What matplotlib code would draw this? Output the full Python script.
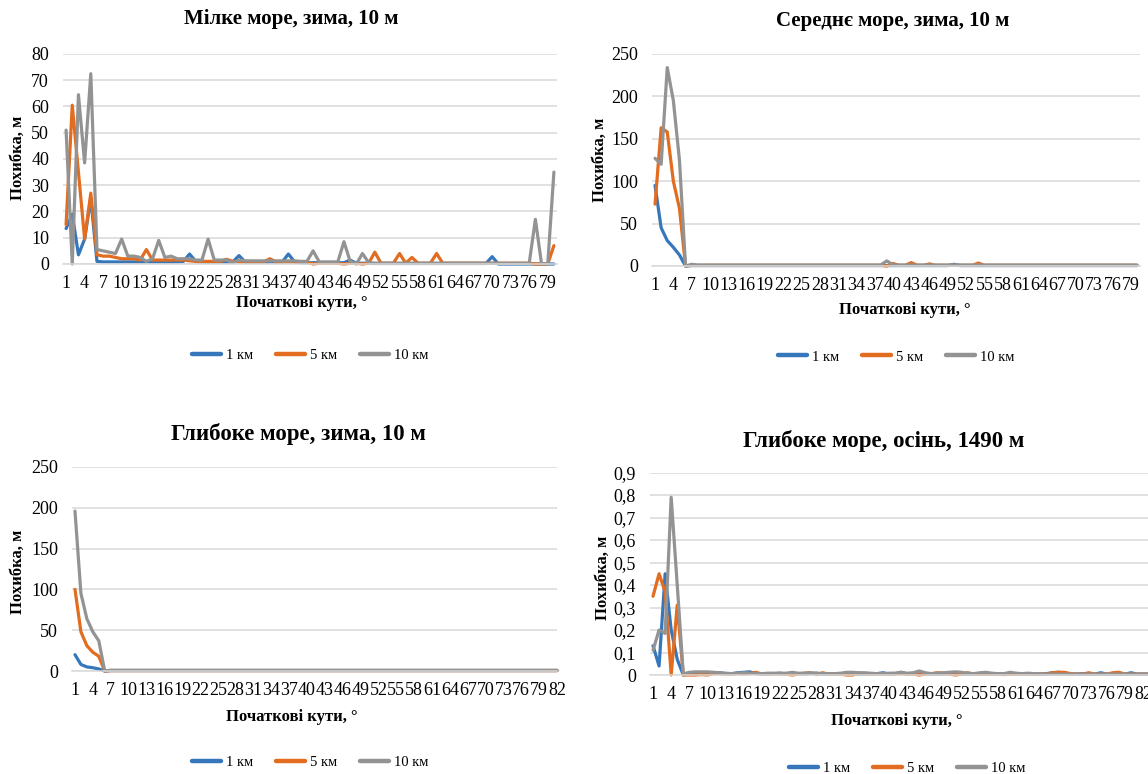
import matplotlib
matplotlib.use("Agg")
import matplotlib.pyplot as plt

# ---------------- data ----------------
angles1 = list(range(1, 81))
blue1 = [13.5, 19, 3.5, 9.5, 25, 1, 0.8, 0.8, 0.8, 0.8,
         0.8, 0.8, 0.8, 0.8, 0.8, 0.8, 0.8, 0.8, 0.8, 1,
         3.8, 1, 0.8, 0.8, 0.8, 0.8, 0.8, 0.8, 3.2, 0.8,
         0.8, 0.8, 0.8, 0.8, 0.8, 0.8, 3.8, 0.8, 0.5, 0.5,
         0.5, 0.5, 0.5, 0.5, 0.5, 0.5, 1.5, 0.3, 0.3, 0.3,
         0.2, 0.2, 0.2, 0.2, 0.2, 0.2, 0.2, 0.2, 0.2, 0.2,
         0.2, 0.2, 0.2, 0.2, 0.2, 0.2, 0.2, 0.2, 0.2, 2.8,
         0, 0, 0, 0, 0, 0, 0, 0, 0, 0]
orange1 = [15, 60.5, 35, 9.5, 27, 3.5, 3, 3, 2.5, 2,
           2, 2, 1.5, 5.5, 1.5, 1.5, 1.5, 1.5, 1.5, 1.5,
           1.2, 1, 1, 1, 1, 1, 1.8, 1, 0.8, 0.8,
           0.8, 0.8, 0.8, 2, 0.8, 0.8, 0.8, 0.8, 0.8, 0.8,
           0, 0.3, 0.3, 0.3, 0.3, 0, 0.3, 0.3, 0, 0.3,
           4.5, 0.3, 0.3, 0.3, 4, 0.3, 2.5, 0.3, 0.3, 0.3,
           4, 0.3, 0.3, 0.3, 0.3, 0.3, 0.3, 0.3, 0.3, 0.3,
           0.3, 0.3, 0.3, 0.3, 0.3, 0.3, 0, 0, 0, 7]
gray1 = [51, 0, 64.5, 38.5, 72.5, 5.5, 5, 4.5, 4, 9.5,
         3, 3, 2.5, 1, 2, 9, 2.5, 3, 2, 2,
         2, 1.5, 1.5, 9.5, 1.5, 1.5, 1.5, 0.5, 1.5, 1.2,
         1.2, 1.2, 1.2, 1.2, 1.2, 1.2, 1.2, 1.2, 1, 1,
         5, 0.8, 0.8, 0.8, 0.8, 8.5, 1, 0, 4, 0.5,
         0.3, 0.3, 0.3, 0.3, 0.3, 0.3, 0.3, 0.3, 0.3, 0.3,
         0.3, 0.3, 0.3, 0.3, 0.3, 0.3, 0.3, 0.3, 0.3, 0.3,
         0.3, 0.3, 0.3, 0.3, 0.3, 0.3, 17, 0, 0, 35]

angles2 = list(range(1, 81))
blue2 = [95, 45, 30, 22, 13, 0] + [0.5] * 43 + [2] + [0.5] * 30
orange2 = ([73, 163, 158, 100, 68, 0] + [0.8] * 32 +
           [0, 3, 0.8, 0.8, 4, 0.8, 0.8, 2.5] + [0.8] * 7 + [3.5] + [0.8] * 26)
gray2 = [127, 120, 234, 195, 125, 0, 2] + [1.2] * 31 + [6] + [1.2] * 41

angles3 = list(range(1, 83))
blue3 = [20, 8, 5, 4, 2.5, 0] + [0.5] * 76
orange3 = [100, 48, 31, 23, 18, 0] + [0.5] * 76
gray3 = [196, 95, 64, 48, 37, 0] + [1] * 76

angles4 = list(range(1, 84))
blue4 = [0.13, 0.04, 0.45, 0.2, 0.07, 0.0,
         0.01, 0.008, 0.006, 0.006, 0.008, 0.01, 0.006, 0.006, 0.01, 0.012,
         0.014, 0.006, 0.004, 0.004, 0.006, 0.008, 0.004, 0.004, 0.006, 0.004,
         0.006, 0.008, 0.004, 0.004, 0.004, 0.006, 0.004, 0.004, 0.004, 0.004,
         0.004, 0.006, 0.01, 0.004, 0.006, 0.012, 0.004, 0.006, 0.004, 0.004,
         0.004, 0.004, 0.004, 0.006, 0.004, 0.004, 0.004, 0.004, 0.004, 0.006,
         0.004, 0.004, 0.004, 0.004, 0.004, 0.004, 0.004, 0.004, 0.004, 0.006,
         0.01, 0.012, 0.008, 0.004, 0.004, 0.006, 0.004, 0.004, 0.01, 0.004,
         0.004, 0.004, 0.004, 0.01, 0.004, 0.004, 0.004]
orange4 = [0.35, 0.45, 0.37, 0.0, 0.31, 0.0,
           0.0, 0.0, 0.002, 0.0, 0.006, 0.006, 0.004, 0.004, 0.006, 0.004,
           0.006, 0.012, 0.004, 0.004, 0.006, 0.004, 0.004, 0.0, 0.004, 0.008,
           0.01, 0.002, 0.01, 0.004, 0.004, 0.004, 0.0, 0.0, 0.008, 0.006,
           0.004, 0.004, 0.004, 0.004, 0.004, 0.006, 0.004, 0.004, 0.0, 0.004,
           0.006, 0.01, 0.008, 0.004, 0.0, 0.004, 0.01, 0.004, 0.004, 0.004,
           0.004, 0.004, 0.002, 0.004, 0.004, 0.004, 0.004, 0.004, 0.004, 0.004,
           0.01, 0.012, 0.012, 0.006, 0.004, 0.004, 0.01, 0.004, 0.004, 0.004,
           0.01, 0.012, 0.004, 0.004, 0.004, 0.004, 0.004]
gray4 = [0.11, 0.2, 0.185, 0.79, 0.4, 0.005,
         0.012, 0.014, 0.014, 0.014, 0.012, 0.01, 0.008, 0.006, 0.008, 0.01,
         0.008, 0.006, 0.006, 0.008, 0.008, 0.008, 0.008, 0.012, 0.008, 0.008,
         0.01, 0.008, 0.006, 0.006, 0.006, 0.008, 0.012, 0.012, 0.01, 0.01,
         0.008, 0.006, 0.006, 0.008, 0.008, 0.012, 0.008, 0.01, 0.018, 0.01,
         0.006, 0.008, 0.01, 0.012, 0.014, 0.012, 0.008, 0.006, 0.01, 0.012,
         0.008, 0.006, 0.006, 0.012, 0.008, 0.006, 0.008, 0.006, 0.004, 0.004,
         0.004, 0.004, 0.004, 0.004, 0.004, 0.004, 0.004, 0.004, 0.004, 0.004,
         0.004, 0.004, 0.004, 0.004, 0.004, 0.004, 0.004]

series_names = ["1 км", "5 км", "10 км"]
titles = ["Мілке море, зима, 10 м", "Середнє море, зима, 10 м",
          "Глибоке море, зима, 10 м", "Глибоке море, осінь, 1490 м"]
ylabel = "Похибка, м"
xlabel = "Початкові кути, °"
yticks1 = [0, 10, 20, 30, 40, 50, 60, 70, 80]
yticks2 = [0, 50, 100, 150, 200, 250]
yticks3 = [0, 50, 100, 150, 200, 250]
yticks4 = [0, 0.1, 0.2, 0.3, 0.4, 0.5, 0.6, 0.7, 0.8, 0.9]
ytick_labels4 = ["0", "0,1", "0,2", "0,3", "0,4", "0,5", "0,6", "0,7", "0,8", "0,9"]

# ---------------- style ----------------
COLORS = ["#3677BC", "#E26C1F", "#939393"]
FONT = "Liberation Serif"
W, H = 1148, 774
fig = plt.figure(figsize=(W / 100, H / 100), dpi=100)


def px_axes(l, r, t, b):
    return fig.add_axes([l / W, 1 - b / H, (r - l) / W, (b - t) / H])


def ftext(x, y, s, **kw):
    fig.text(x / W, 1 - y / H, s, family=FONT, ha="center", va="center", **kw)


panels = [
    dict(box=(63, 557, 54, 264), x=angles1, ys=(blue1, orange1, gray1), yt=yticks1, ytl=None,
         xlim=(0.5, 80.5), title=(291, 19), tsize=15, ylab=(18, 158), xlab=(302, 303),
         leg=(310, 355)),
    dict(box=(652, 1140, 54, 266), x=angles2, ys=(blue2, orange2, gray2), yt=yticks2, ytl=None,
         xlim=(0.5, 80.5), title=(893, 21), tsize=15, ylab=(600, 160), xlab=(905, 310),
         leg=(896, 357)),
    dict(box=(72, 557, 467, 671), x=angles3, ys=(blue3, orange3, gray3), yt=yticks3, ytl=None,
         xlim=(0.5, 82.0), title=(298, 434), tsize=16.5, ylab=(18, 572), xlab=(292, 717),
         leg=(310, 762)),
    dict(box=(650, 1148, 472.5, 675), x=angles4, ys=(blue4, orange4, gray4), yt=yticks4,
         ytl=ytick_labels4, xlim=(0.5, 82.8), title=(884, 441), tsize=16.5, ylab=(603, 578),
         xlab=(897, 721), leg=(907, 768)),
]

for i, p in enumerate(panels):
    ax = px_axes(*p["box"])
    handles = []
    for ys, c, name in zip(p["ys"], COLORS, series_names):
        h, = ax.plot(p["x"], ys, color=c, lw=2.3, solid_joinstyle="round",
                     solid_capstyle="round", clip_on=False, label=name)
        handles.append(h)
    ax.set_xlim(*p["xlim"])
    ax.set_ylim(p["yt"][0], p["yt"][-1])
    ax.set_yticks(p["yt"])
    if p["ytl"] is not None:
        ax.set_yticklabels(p["ytl"])
    xt = list(range(1, len(p["x"]) + 1, 3))
    xt = [v for v in xt if v <= p["xlim"][1] + 0.01]
    ax.set_xticks(xt)
    ax.set_xticklabels([str(v) for v in xt])
    ax.grid(axis="y", color="#D9D9D9", lw=1.1)
    ax.set_axisbelow(True)
    for s in ("left", "right", "top"):
        ax.spines[s].set_visible(False)
    ax.spines["bottom"].set_color("#D9D9D9")
    ax.spines["bottom"].set_linewidth(1.1)
    ax.tick_params(length=0, labelsize=13, pad=8)
    ax.tick_params(axis="y", pad=10)
    for lbl in ax.get_xticklabels() + ax.get_yticklabels():
        lbl.set_family(FONT)
    ftext(*p["title"], titles[i], fontsize=p["tsize"], fontweight="bold")
    ftext(*p["ylab"], ylabel, fontsize=12, fontweight="bold", rotation=90)
    ftext(*p["xlab"], xlabel, fontsize=12, fontweight="bold")
    lx, ly = p["leg"]
    fig.legend(handles=handles, loc="center", bbox_to_anchor=(lx / W, 1 - ly / H),
               ncol=3, frameon=False, prop=dict(family=FONT, size=10.5),
               handlelength=2.0, handletextpad=0.3, columnspacing=1.6)
    for lh in fig.legends[-1].get_lines():
        lh.set_linewidth(3.2)

fig.savefig("out.png", dpi=100, facecolor="white")
